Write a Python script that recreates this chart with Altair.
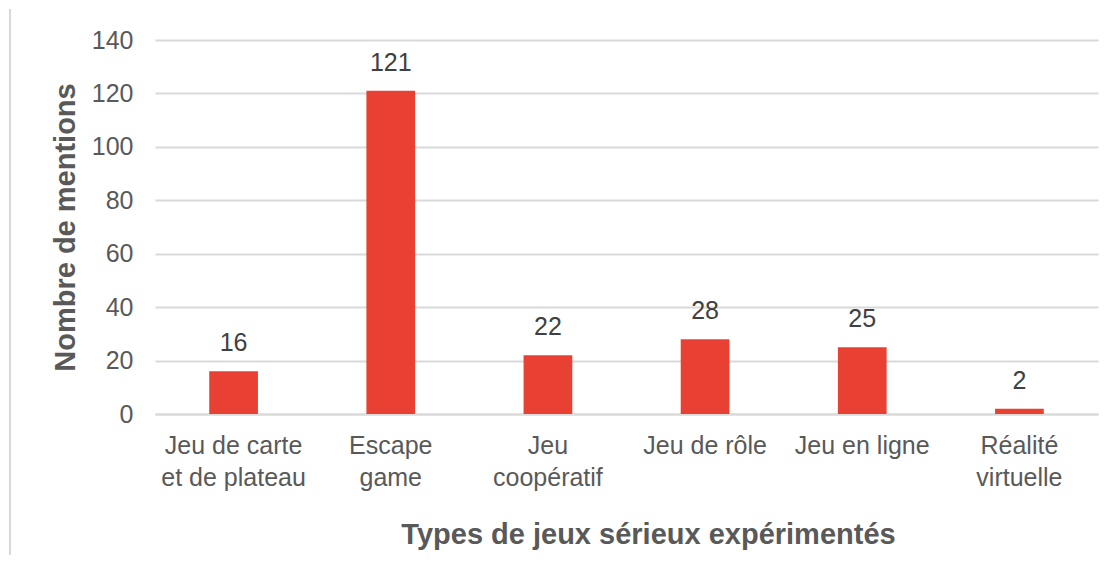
import altair as alt
import pandas as pd

categories = ["Jeu de carte et de plateau", "Escape game", "Jeu coopératif",
              "Jeu de rôle", "Jeu en ligne", "Réalité virtuelle"]
label_lines = [["Jeu de carte", "et de plateau"], ["Escape", "game"], ["Jeu", "coopératif"],
               ["Jeu de rôle"], ["Jeu en ligne"], ["Réalité", "virtuelle"]]
values = [16, 121, 22, 28, 25, 2]
y_ticks = [0, 20, 40, 60, 80, 100, 120, 140]

df = pd.DataFrame({"type": categories, "mentions": values})

# build label expression from the line lists
parts = []
for c, lines in zip(categories, label_lines):
    arr = "[" + ",".join("'" + l.replace("'", "\\'") + "'" for l in lines) + "]"
    parts.append(f"datum.value == '{c}' ? {arr}")
label_expr = " : ".join(parts) + " : datum.value"

FONT = "Liberation Sans"
GREY = "#595959"

x_enc = alt.X(
    "type:N", sort=categories,
    scale=alt.Scale(paddingInner=0.69, paddingOuter=0.345),
    axis=alt.Axis(
        title="Types de jeux sérieux expérimentés",
        labelExpr=label_expr, labelAngle=0, labelFontSize=25, labelColor=GREY,
        labelFont=FONT, labelPadding=19, labelLineHeight=32, ticks=False,
        domainColor="#d9d9d9", domainWidth=2,
        titleFont=FONT, titleFontSize=29, titleFontWeight="bold", titleColor=GREY,
        titleX=493, titleY=129, titleAlign="center", titleBaseline="alphabetic",
    ),
)
y_enc = alt.Y(
    "mentions:Q",
    scale=alt.Scale(domain=[0, 140]),
    axis=alt.Axis(
        title="Nombre de mentions", values=y_ticks, domain=False, ticks=False,
        labelFontSize=25, labelColor=GREY, labelFont=FONT, labelPadding=22,
        gridColor="#d9d9d9", gridWidth=2,
        titleFont=FONT, titleFontSize=29, titleFontWeight="bold", titleColor=GREY,
        titleAngle=-90, titleX=-90, titleY=187, titleAlign="center", titleBaseline="middle",
    ),
)

bars = alt.Chart(df).mark_bar(color="#E84133").encode(x=x_enc, y=y_enc)
text = alt.Chart(df).mark_text(
    font=FONT, fontSize=25, color="#404040", baseline="alphabetic", dy=-20
).encode(x=alt.X("type:N", sort=categories), y="mentions:Q", text="mentions:Q")

border = alt.Chart(pd.DataFrame({"a": [0]})).mark_rule(color="#d9d9d9", strokeWidth=2).encode(
    x=alt.value(-145), y=alt.value(-31), y2=alt.value(523)
)

chart = alt.layer(bars, text, border).properties(
    width=943, height=374,
    autosize=alt.AutoSizeParams(type="none"),
    padding={"left": 147, "top": 32, "right": 13, "bottom": 141},
).configure_view(stroke=None)

chart.save("out.html", embed_options={"renderer": "svg", "actions": False})
